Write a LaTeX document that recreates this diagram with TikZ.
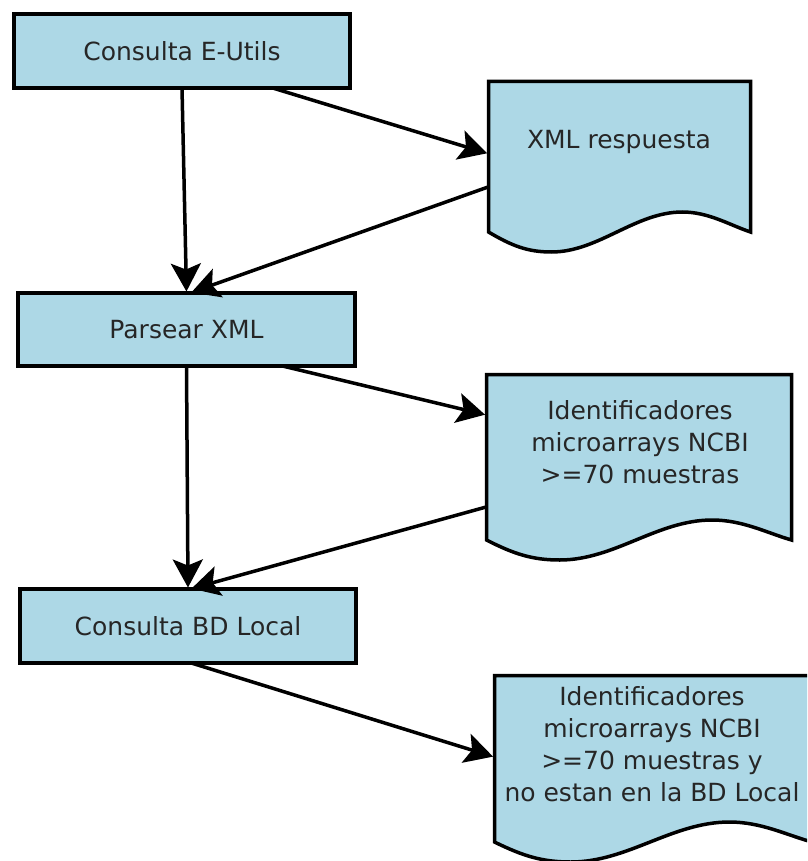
\documentclass[tikz,border=0pt]{standalone}
\usepackage{fontspec}
\setmainfont{DejaVu Sans}
\usetikzlibrary{arrows.meta,calc}

\definecolor{boxfill}{HTML}{ADD8E6}
\definecolor{ink}{HTML}{262626}

% document shape with a wavy lower edge: left, right, top, bottom (edge ends)
\newcommand\docshape[4]{%
  \filldraw[docline]
    (#1,#3) -- (#2,#3) -- (#2,#4)
    .. controls ({#2-0.08*(#2-#1)},{#4-7}) and ({#1+0.84*(#2-#1)},{#4-20}) .. ({#1+0.74*(#2-#1)},{#4-20})
    .. controls ({#1+0.56*(#2-#1)},{#4-20}) and ({#1+0.42*(#2-#1)},{#4+20}) .. ({#1+0.24*(#2-#1)},{#4+20})
    .. controls ({#1+0.15*(#2-#1)},{#4+20}) and ({#1+0.09*(#2-#1)},{#4+14}) .. (#1,#4)
    -- cycle;}

\begin{document}
\begin{tikzpicture}[x=1pt,y=-1pt,
  every node/.style={font=\fontsize{25}{32}\selectfont, text=ink},
  procbox/.style={draw=black, fill=boxfill, line width=4pt, rectangle,
    inner sep=0pt, outer sep=0pt},
  docline/.style={draw=black, fill=boxfill, line width=3.5pt, line join=miter},
  docframe/.style={rectangle, draw=none, inner sep=0pt, outer sep=0pt, anchor=north west},
  doctext/.style={align=center, inner sep=0pt},
  arr/.style={line width=3.5pt, -{Stealth[length=28pt, width=30pt, inset=6pt]}, shorten >=1.5pt},
]
\useasboundingbox (0,0) rectangle (807,861);
\clip (0,0) rectangle (807,861);

% process boxes
\node[procbox, minimum width=336pt, minimum height=74pt] (b1) at (182,51) {Consulta E-Utils};
\node[procbox, minimum width=337pt, minimum height=73pt] (b2) at (186.5,329.5) {Parsear XML};
\node[procbox, minimum width=336pt, minimum height=74pt] (b3) at (188,626) {Consulta BD Local};

% documents
\docshape{488.5}{750.5}{81.5}{232}
\node[docframe, minimum width=262pt, minimum height=150.5pt] (d1) at (488.5,81.5) {};
\node[doctext] (d1t) at (619,142) {XML respuesta};

\docshape{486.5}{791.5}{374.5}{540}
\node[docframe, minimum width=305pt, minimum height=165.5pt] (d2) at (486.5,374.5) {};
\node[doctext] (d2t) at (640,442) {Identificadores\\microarrays NCBI\\>=70 muestras};

\docshape{494.5}{812}{675.5}{842}
\node[docframe, minimum width=317.5pt, minimum height=166.5pt] (d3) at (494.5,675.5) {};
\node[doctext] (d3t) at (652,744) {Identificadores\\microarrays NCBI\\>=70 muestras y\\no estan en la BD Local};

% connectors
\draw[arr] (b1.south) -- (b2.north);
\draw[arr] ($(b1.south west)!0.77!(b1.south east)$) -- ($(d1.north west)!0.48!(d1.south west)$);
\draw[arr] ($(d1.north west)!0.70!(d1.south west)$) -- ($(b2.north west)!0.51!(b2.north east)$);
\draw[arr] (b2.south) -- (b3.north);
\draw[arr] ($(b2.south west)!0.785!(b2.south east)$) -- ($(d2.north west)!0.245!(d2.south west)$);
\draw[arr] ($(d2.north west)!0.80!(d2.south west)$) -- ($(b3.north west)!0.506!(b3.north east)$);
\draw[arr] ($(b3.south west)!0.51!(b3.south east)$) -- ($(d3.north west)!0.49!(d3.south west)$);
\end{tikzpicture}
\end{document}
